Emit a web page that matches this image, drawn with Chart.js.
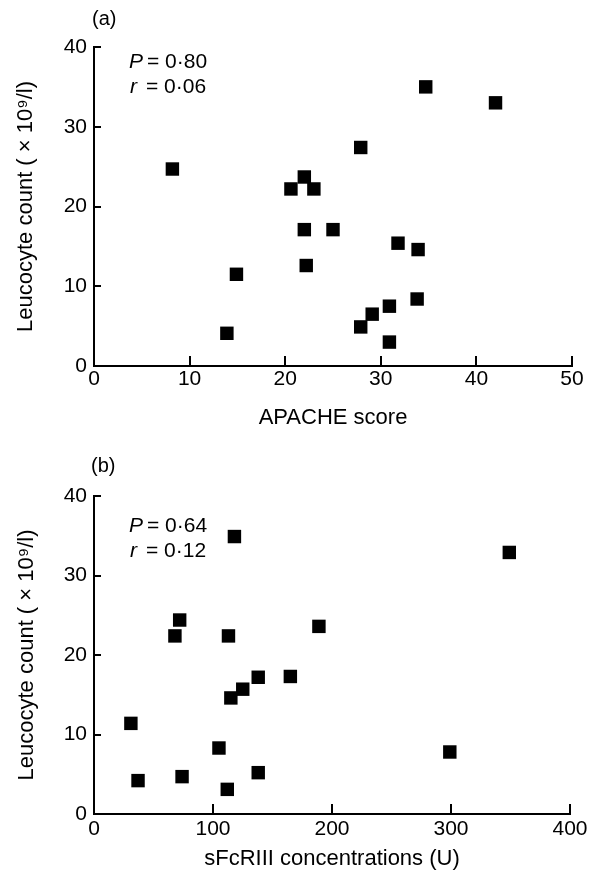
<!DOCTYPE html>
<html>
<head>
<meta charset="utf-8">
<script src="https://cdn.jsdelivr.net/npm/chart.js@4"></script>
<style>
body { margin: 0; background: #fff; }
canvas { display: block; }
</style>
</head>
<body>
<canvas id="chartA" width="596" height="436"></canvas>
<canvas id="chartB" width="596" height="437"></canvas>
<script>
// panel (a): APACHE score vs leucocyte count
const apacheScore = [8.2, 13.9, 14.9, 20.6, 22.0, 23.0, 22.0, 22.2, 25.0, 27.9, 27.9, 29.1, 30.9, 30.9, 31.8, 33.8, 33.9, 34.7, 42.0];
const leucocyteA = [24.7, 4.1, 11.5, 22.2, 23.7, 22.2, 17.1, 12.6, 17.1, 27.4, 4.9, 6.5, 7.5, 3.0, 15.4, 8.4, 14.6, 35.0, 33.0];

// panel (b): sFcRIII vs leucocyte count
const sfcConc = [31, 37, 68, 72, 74, 105, 112, 113, 115, 118, 125, 138, 138, 165, 189, 299, 349];
const leucocyteB = [11.4, 4.2, 22.4, 24.4, 4.7, 8.3, 3.1, 22.4, 14.6, 34.9, 15.7, 17.2, 5.2, 17.3, 23.6, 7.8, 32.9];

const leucocyteTicks = [0, 10, 20, 30, 40];
const apacheTicks = [0, 10, 20, 30, 40, 50];
const sfcTicks = [0, 100, 200, 300, 400];

const fontFamily = "'Liberation Sans', Arial, Helvetica, sans-serif";
Chart.defaults.font.family = fontFamily;
Chart.defaults.font.size = 21;
Chart.defaults.color = '#000';

// ticks in the reference point inward, so draw them after the chart
const innerTicks = {
    id: 'innerTicks',
    afterDraw(chart) {
        const ctx = chart.ctx;
        const x = chart.scales.x;
        const y = chart.scales.y;
        ctx.save();
        ctx.strokeStyle = '#000';
        ctx.lineWidth = 2;
        ctx.beginPath();
        x.ticks.forEach(function (t) {
            const px = Math.round(x.getPixelForValue(t.value));
            ctx.moveTo(px, y.bottom);
            ctx.lineTo(px, y.bottom - 10);
        });
        y.ticks.forEach(function (t) {
            const py = Math.round(y.getPixelForValue(t.value));
            ctx.moveTo(x.left, py);
            ctx.lineTo(x.left + 7, py);
        });
        ctx.stroke();
        ctx.restore();
    }
};

const panelText = {
    id: 'panelText',
    afterDraw(chart, args, opts) {
        const ctx = chart.ctx;
        ctx.save();
        ctx.fillStyle = '#000';
        ctx.textBaseline = 'alphabetic';
        ctx.font = '20px ' + fontFamily;
        ctx.fillText(opts.label, opts.labelX, opts.labelY);
        ctx.font = 'italic 21px ' + fontFamily;
        ctx.fillText('P', opts.statX, opts.pY);
        ctx.fillText('r', opts.statX + 1, opts.rY);
        ctx.font = '21px ' + fontFamily;
        ctx.fillText('= ' + opts.p, opts.statX + 18, opts.pY);
        ctx.fillText('= ' + opts.r, opts.statX + 17, opts.rY);
        ctx.restore();
    }
};

function toPoints(xs, ys) {
    return xs.map(function (v, i) { return { x: v, y: ys[i] }; });
}

function makeChart(id, p) {
    const config = {
        type: 'scatter',
        data: {
            datasets: [{
                data: toPoints(p.xs, p.ys),
                pointStyle: 'rect',
                pointRadius: 9.5,
                pointHoverRadius: 9.5,
                backgroundColor: '#000',
                borderWidth: 0,
                clip: false,
            }],
        },
        options: {
            responsive: false,
            animation: false,
            layout: { padding: p.padding },
            plugins: {
                legend: { display: false },
                tooltip: { enabled: false },
                panelText: p.text,
            },
            scales: {
                x: {
                    type: 'linear',
                    min: p.xTicks[0],
                    max: p.xTicks[p.xTicks.length - 1],
                    afterBuildTicks: function (s) { s.ticks = p.xTicks.map(function (v) { return { value: v }; }); },
                    grid: { display: false, drawTicks: false },
                    border: { display: true, color: '#000', width: 2 },
                    ticks: { padding: p.xTickPad, maxRotation: 0, autoSkip: false },
                    title: { display: true, text: p.xTitle, font: { size: 22 }, padding: { top: 0, bottom: p.xTitlePad } },
                    afterFit: function (s) { s.height = p.xHeight; },
                },
                y: {
                    min: 0,
                    max: 40,
                    afterBuildTicks: function (s) { s.ticks = leucocyteTicks.map(function (v) { return { value: v }; }); },
                    grid: { display: false, drawTicks: false },
                    border: { display: true, color: '#000', width: 2 },
                    ticks: { padding: 7 },
                    title: { display: true, text: 'Leucocyte count ( × 10⁹/l)', font: { size: 22 }, padding: { top: p.yTitlePad, bottom: 0 } },
                    afterFit: function (s) { s.width = 94; },
                },
            },
        },
        plugins: [innerTicks, panelText],
    };
    return new Chart(document.getElementById(id), config);
}

makeChart('chartA', {
    xs: apacheScore,
    ys: leucocyteA,
    xTicks: apacheTicks,
    xTitle: 'APACHE score',
    padding: { left: 0, top: 47, right: 24, bottom: 0 },
    xHeight: 70,
    xTickPad: 1,
    xTitlePad: 5,
    yTitlePad: 13,
    text: { label: '(a)', labelX: 92, labelY: 25, statX: 129, pY: 68, rY: 93, p: '0·80', r: '0·06' },
});

makeChart('chartB', {
    xs: sfcConc,
    ys: leucocyteB,
    xTicks: sfcTicks,
    xTitle: 'sFcRIII concentrations (U)',
    padding: { left: 0, top: 60, right: 26, bottom: 0 },
    xHeight: 59,
    xTickPad: 3,
    xTitlePad: 1,
    yTitlePad: 14,
    text: { label: '(b)', labelX: 91, labelY: 36, statX: 129, pY: 96, rY: 121, p: '0·64', r: '0·12' },
});
</script>
</body>
</html>
